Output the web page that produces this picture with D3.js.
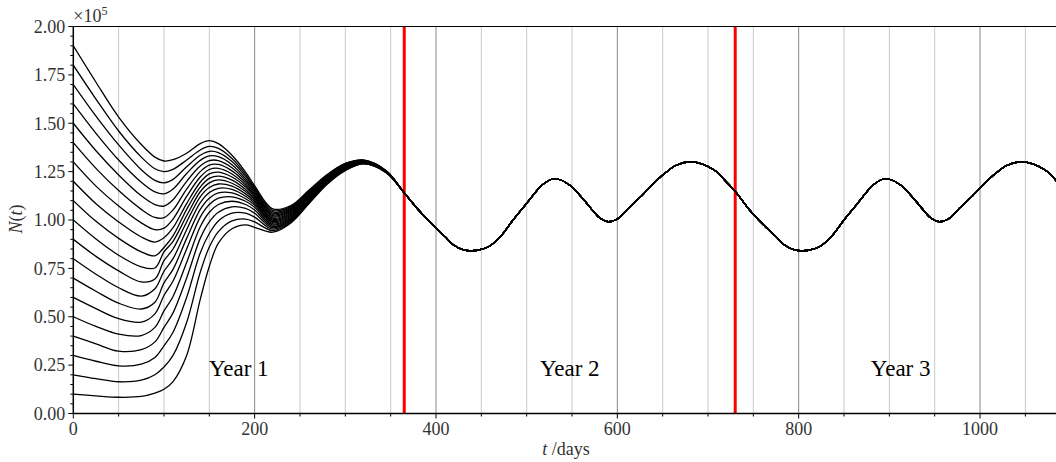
<!DOCTYPE html>
<html><head><meta charset="utf-8">
<script src="https://cdn.jsdelivr.net/npm/d3@7/dist/d3.min.js"></script>
<style>
body{margin:0;background:#fff}
text{font-family:"Liberation Serif","Times New Roman",serif}
</style>
</head><body>
<svg id="c" width="1056" height="462"></svg>
<script>
// ---- data (N in units of 1e5, t in days) ----
const earlyTimes = [0,25,50,75,90,100,110,125,140,150,160,175,190,200,220,240,260,280,300,320,345];
const earlyValues = [
 [0.100,0.091,0.084,0.088,0.105,0.125,0.165,0.300,0.590,0.760,0.880,0.955,0.975,0.962,0.937,0.985,1.085,1.185,1.255,1.290,1.245],
 [0.200,0.180,0.164,0.172,0.200,0.240,0.300,0.470,0.730,0.860,0.940,0.995,1.005,0.990,0.945,0.990,1.089,1.188,1.257,1.291,1.246],
 [0.300,0.270,0.246,0.255,0.290,0.350,0.420,0.600,0.830,0.930,0.995,1.035,1.035,1.015,0.953,0.995,1.093,1.191,1.259,1.292,1.246],
 [0.400,0.360,0.322,0.330,0.370,0.445,0.520,0.700,0.905,0.990,1.040,1.068,1.060,1.035,0.960,1.000,1.097,1.193,1.261,1.293,1.247],
 [0.500,0.450,0.410,0.403,0.445,0.530,0.605,0.780,0.965,1.040,1.080,1.097,1.080,1.052,0.967,1.005,1.101,1.196,1.263,1.294,1.247],
 [0.600,0.542,0.490,0.472,0.515,0.610,0.685,0.850,1.015,1.080,1.113,1.120,1.097,1.066,0.974,1.010,1.105,1.199,1.266,1.296,1.248],
 [0.700,0.632,0.570,0.540,0.575,0.675,0.745,0.905,1.055,1.113,1.140,1.140,1.110,1.077,0.980,1.015,1.108,1.202,1.268,1.297,1.248],
 [0.800,0.720,0.650,0.607,0.645,0.735,0.800,0.950,1.090,1.142,1.164,1.158,1.123,1.087,0.986,1.020,1.112,1.204,1.270,1.298,1.249],
 [0.900,0.812,0.737,0.680,0.695,0.790,0.850,0.990,1.120,1.168,1.186,1.175,1.135,1.096,0.992,1.025,1.116,1.207,1.272,1.299,1.249],
 [1.000,0.902,0.818,0.758,0.752,0.835,0.890,1.022,1.146,1.192,1.207,1.190,1.147,1.104,0.998,1.030,1.120,1.210,1.274,1.300,1.250],
 [1.100,0.993,0.905,0.835,0.815,0.858,0.918,1.055,1.170,1.215,1.227,1.206,1.158,1.112,1.004,1.035,1.124,1.213,1.276,1.301,1.251],
 [1.200,1.084,0.990,0.912,0.886,0.908,0.960,1.085,1.195,1.238,1.247,1.222,1.170,1.120,1.010,1.040,1.128,1.216,1.278,1.302,1.251],
 [1.300,1.175,1.072,0.985,0.950,0.958,1.005,1.122,1.222,1.261,1.267,1.238,1.181,1.128,1.016,1.045,1.132,1.218,1.280,1.303,1.252],
 [1.400,1.267,1.152,1.055,1.013,1.012,1.052,1.160,1.250,1.284,1.287,1.254,1.192,1.136,1.022,1.050,1.136,1.221,1.282,1.304,1.252],
 [1.500,1.358,1.233,1.125,1.080,1.072,1.105,1.200,1.279,1.307,1.307,1.270,1.203,1.144,1.028,1.055,1.140,1.224,1.284,1.306,1.253],
 [1.600,1.448,1.310,1.195,1.145,1.135,1.160,1.240,1.308,1.331,1.327,1.286,1.214,1.152,1.035,1.060,1.143,1.227,1.287,1.307,1.253],
 [1.700,1.537,1.388,1.260,1.205,1.192,1.210,1.275,1.335,1.355,1.348,1.302,1.225,1.160,1.042,1.065,1.147,1.229,1.289,1.308,1.254],
 [1.800,1.625,1.460,1.325,1.265,1.250,1.262,1.310,1.362,1.380,1.370,1.318,1.236,1.168,1.050,1.070,1.151,1.232,1.291,1.309,1.254],
 [1.900,1.712,1.532,1.390,1.325,1.305,1.312,1.345,1.395,1.410,1.395,1.335,1.248,1.177,1.058,1.075,1.155,1.235,1.293,1.310,1.255]
];
const tailTimes = [365,382,400,410,419,428,437,447,458,471,485,500,515,522,529,537,548,562,574,581,590,600,612,625,650,665,680,693,708,720,730,
                   747,765,775,784,793,802,812,823,836,850,865,880,887,894,902,913,927,939,946,955,965,977,990,1015,1030,1045,1058,1073,1085,1095];
const tailValues = [1.140,1.045,0.957,0.914,0.872,0.850,0.841,0.845,0.862,0.914,1.000,1.086,1.172,1.198,1.212,1.208,1.178,1.110,1.043,1.009,0.991,1.005,1.060,1.117,1.232,1.283,1.301,1.290,1.255,1.198,1.148,
                    1.045,0.957,0.914,0.872,0.850,0.841,0.845,0.862,0.914,1.000,1.086,1.172,1.198,1.212,1.208,1.178,1.110,1.043,1.009,0.991,1.005,1.060,1.117,1.232,1.283,1.301,1.290,1.255,1.198,1.148];
const yearBoundaries = [365, 730];
const yearLabels = ["Year 1", "Year 2", "Year 3"];
const yearLabelTimes = [182.5, 547.5, 912.5];
const yearLabelLevel = 0.235;
const xMajorTicks = [0, 200, 400, 600, 800, 1000];
const xMinorTicks = d3.range(0, 1100, 50);
const yMajorTicks = [0, 0.25, 0.5, 0.75, 1.0, 1.25, 1.5, 1.75, 2.0];
const yMinorTicks = d3.range(0, 2.001, 0.05);

// ---- layout ----
const svg = d3.select("#c");
const L = 73.3, R = 1056.2, T = 26.5, B = 413.5;
const x = d3.scaleLinear().domain([0, 1084]).range([L, R]);
const y = d3.scaleLinear().domain([0, 2]).range([B, T]);

svg.append("defs").append("clipPath").attr("id","clip")
  .append("rect").attr("x",L).attr("y",T).attr("width",R-L+2).attr("height",B-T);

const plot = svg.append("g").attr("clip-path","url(#clip)");

// grid
plot.selectAll("line.gmin").data(xMinorTicks.filter(d => d % 200 !== 0)).join("line")
  .attr("x1",d=>x(d)).attr("x2",d=>x(d)).attr("y1",T).attr("y2",B)
  .attr("stroke","#c8c8c8").attr("stroke-width",1);
plot.selectAll("line.gmaj").data(xMajorTicks.filter(d=>d>0)).join("line")
  .attr("x1",d=>x(d)).attr("x2",d=>x(d)).attr("y1",T).attr("y2",B)
  .attr("stroke","#888").attr("stroke-width",1);

// red year boundaries
plot.selectAll("line.year").data(yearBoundaries).join("line")
  .attr("x1",d=>x(d)).attr("x2",d=>x(d)).attr("y1",T).attr("y2",B)
  .attr("stroke","#ff0000").attr("stroke-width",3);

// curves
const tail = tailTimes.map((t,i)=>[t, tailValues[i]]);
const line = d3.line().x(d=>x(d[0])).y(d=>y(d[1])).curve(d3.curveCatmullRom.alpha(0.5));
earlyValues.forEach(row => {
  const pts = earlyTimes.map((t,i)=>[t,row[i]]).concat(tail);
  plot.append("path").attr("d", line(pts)).attr("fill","none")
    .attr("stroke","#000").attr("stroke-width",1.3);
});

// year labels
svg.selectAll("text.yl").data(yearLabels).join("text")
  .attr("x",(d,i)=>x(yearLabelTimes[i])).attr("y",y(yearLabelLevel)+8)
  .attr("text-anchor","middle").attr("font-size",23).attr("fill","#000").text(d=>d);

// axes
const ax = svg.append("g").attr("stroke","#000");
ax.append("line").attr("x1",L).attr("x2",1056).attr("y1",B).attr("y2",B).attr("stroke-width",1.5);
ax.append("line").attr("x1",L).attr("x2",1056).attr("y1",T).attr("y2",T).attr("stroke-width",1.2);
ax.append("line").attr("x1",L).attr("x2",L).attr("y1",T).attr("y2",B).attr("stroke-width",1.5);

ax.selectAll("line.xt").data(xMinorTicks.filter(d=>x(d)<1056)).join("line")
  .attr("x1",d=>x(d)).attr("x2",d=>x(d)).attr("y1",B).attr("y2",d=>B+(d%200===0?5:3))
  .attr("stroke-width",1);
ax.selectAll("line.yt").data(yMinorTicks).join("line")
  .attr("x1",L).attr("x2",(d,i)=>L-(i%5===0?5:3)).attr("y1",d=>y(d)).attr("y2",d=>y(d))
  .attr("stroke-width",1);

svg.selectAll("text.xl").data(xMajorTicks).join("text")
  .attr("x",d=>x(d)).attr("y",B+21).attr("text-anchor","middle")
  .attr("font-size",18).attr("fill","#333").text(d=>d);
svg.selectAll("text.ylb").data(yMajorTicks).join("text")
  .attr("x",L-8).attr("y",d=>y(d)).attr("dy","0.35em").attr("text-anchor","end")
  .attr("font-size",18).attr("fill","#333").text(d=>d.toFixed(2));

// axis titles
const xt = svg.append("text").attr("x",566).attr("y",455).attr("text-anchor","middle")
  .attr("font-size",18).attr("fill","#333");
xt.append("tspan").attr("font-style","italic").text("t");
xt.append("tspan").text(" /days");

const yt = svg.append("text").attr("transform","translate(22,219) rotate(-90)")
  .attr("text-anchor","middle").attr("font-size",18).attr("fill","#333");
yt.append("tspan").attr("font-style","italic").text("N");
yt.append("tspan").text("(");
yt.append("tspan").attr("font-style","italic").text("t");
yt.append("tspan").text(")");

const ex = svg.append("text").attr("x",L).attr("y",22).attr("font-size",18).attr("fill","#333");
ex.append("tspan").text("×10");
ex.append("tspan").attr("font-size",12).attr("dy",-7).text("5");
</script>
</body></html>
